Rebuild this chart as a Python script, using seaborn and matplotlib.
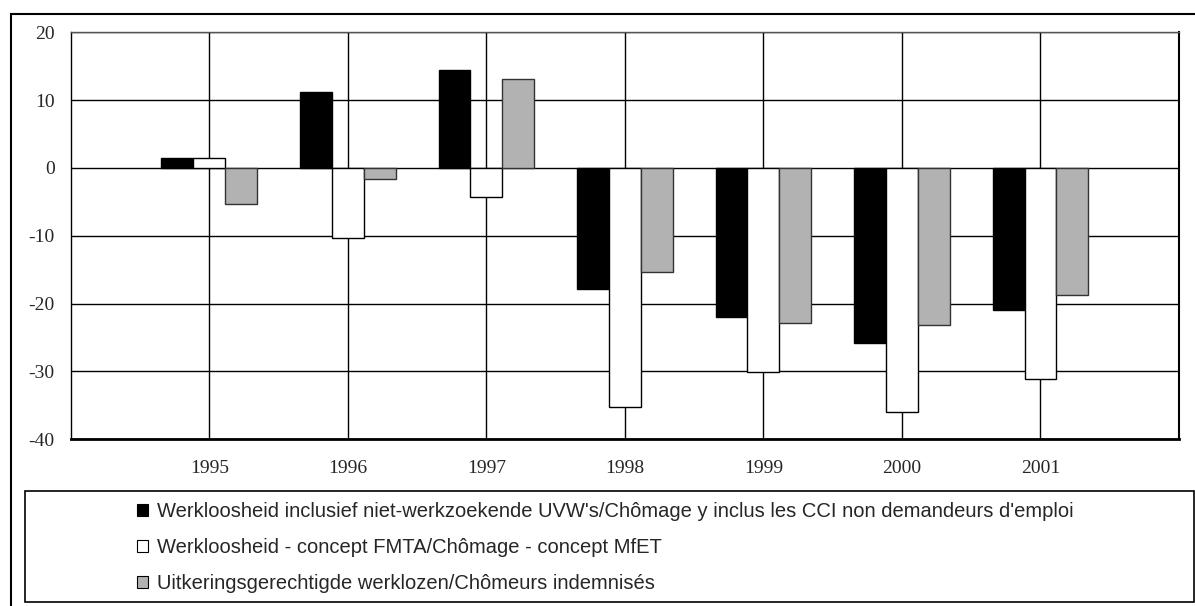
import matplotlib
matplotlib.use("Agg")
import matplotlib.pyplot as plt
from matplotlib.patches import Rectangle, Patch
import seaborn as sns
import pandas as pd

years = ["1995", "1996", "1997", "1998", "1999", "2000", "2001"]
series_names = [
    "Werkloosheid inclusief niet-werkzoekende UVW's/Chômage y inclus les CCI non demandeurs d'emploi",
    "Werkloosheid - concept FMTA/Chômage - concept MfET",
    "Uitkeringsgerechtigde werklozen/Chômeurs indemnisés",
]
black_vals = [1.5, 11.2, 14.5, -17.9, -22.0, -25.8, -20.9]
white_vals = [1.4, -10.3, -4.3, -35.3, -30.1, -36.0, -31.1]
gray_vals = [-5.3, -1.6, 13.1, -15.3, -22.9, -23.2, -18.8]
yticks = [-40, -30, -20, -10, 0, 10, 20]

colors = ["#000000", "#ffffff", "#b2b2b2"]
edges = ["#000000", "#000000", "#333333"]

rows = []
for name, vals in zip(series_names, [black_vals, white_vals, gray_vals]):
    for y, v in zip(years, vals):
        rows.append({"year": y, "value": v, "series": name})
df = pd.DataFrame(rows)

sns.set_style("white")
plt.rcParams["axes.unicode_minus"] = False
W, H = 1195, 606
fig = plt.figure(figsize=(W / 100, H / 100), dpi=100)
left, right, top, bottom = 70.7, 1179, 32.3, 439.3
ax = fig.add_axes([left / W, 1 - bottom / H, (right - left) / W, (bottom - top) / H])

sns.barplot(data=df, x="year", y="value", hue="series", order=years,
            hue_order=series_names, palette=colors, width=0.69,
            saturation=1, edgecolor="black", linewidth=1.0, ax=ax,
            legend=False, errorbar=None)
for cont, ec in zip(ax.containers, edges):
    for p in cont:
        p.set_edgecolor(ec)
        p.set_zorder(3)

ax.set_xlim(-1, len(years))
ax.set_ylim(-40, 20)
ax.set_yticks(yticks)
ax.set_xlabel("")
ax.set_ylabel("")
ax.set_axisbelow(True)
ax.grid(True, axis="both", color="black", linewidth=1.0)
ax.tick_params(axis="both", length=0, labelsize=14)
ax.tick_params(axis="y", pad=11.5)
ax.tick_params(axis="x", pad=15)
for lab in ax.get_xticklabels() + ax.get_yticklabels():
    lab.set_fontfamily("Liberation Serif")
for s in ["left", "right", "top"]:
    ax.spines[s].set_color("black")
    ax.spines[s].set_linewidth(1.0)
ax.spines["top"].set_color("#555555")
ax.spines["right"].set_linewidth(1.5)
ax.spines["bottom"].set_color("black")
ax.spines["bottom"].set_linewidth(2.0)

# outer frame (clipped at right/bottom like the reference)
fig.add_artist(Rectangle((10.7 / W, -0.5), 2.0, (1 - 13.7 / H) + 0.5,
                         transform=fig.transFigure, fill=False,
                         edgecolor="black", linewidth=1.5))
# legend box
fig.add_artist(Rectangle((25 / W, 1 - 601.7 / H), (1194 - 25) / W, (601.7 - 491) / H,
                         transform=fig.transFigure, fill=False,
                         edgecolor="black", linewidth=1.2))

handles = [Patch(facecolor=c, edgecolor="black", linewidth=0.8) for c in colors]
fig.legend(handles, series_names, loc="upper left",
           bbox_to_anchor=(137 / W, 1 - 502 / H), frameon=False,
           prop={"family": "Liberation Sans", "size": 14.5},
           handlelength=0.55, handleheight=0.5, handletextpad=0.43,
           labelspacing=0.85, borderpad=0, borderaxespad=0)

fig.savefig("out.png", dpi=100)
